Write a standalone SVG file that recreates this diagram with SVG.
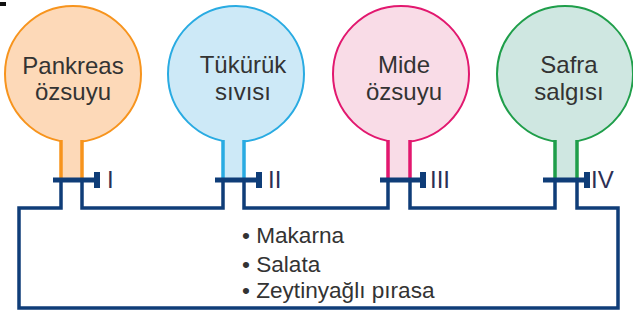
<svg xmlns="http://www.w3.org/2000/svg" width="633" height="320" viewBox="0 0 633 320">
<style>
.lbl{font-family:"Liberation Sans",Arial,sans-serif;font-size:24px;fill:#333333;text-anchor:middle}
.num{font-family:"Liberation Sans",Arial,sans-serif;font-size:24px;fill:#2c2f55}
.item{font-family:"Liberation Sans",Arial,sans-serif;font-size:22.6px;fill:#333333}
.pipe{fill:none;stroke:#0f3d78;stroke-width:3.5;stroke-linejoin:miter;stroke-linecap:butt}
.bar{stroke:#0f3d78;stroke-width:5}
.cap{fill:#0f3d78}
</style>
<rect x="0" y="2" width="6" height="4" fill="#111"/>
<g id="connectors">
<path class="pipe" d="M61 178 V208 H19 V308 H618 V208 H577 V178"/>
<path class="pipe" d="M82 178 V208 H223 V178"/>
<path class="pipe" d="M244 178 V208 H388 V178"/>
<path class="pipe" d="M410 178 V208 H555 V178"/>
</g>
<g id="pankreas">
<circle cx="73" cy="74" r="68" fill="#fdd9b8" stroke="#f7941d" stroke-width="2"/>
<rect x="61" y="130" width="21" height="49" fill="#fdd9b8"/>
<path d="M61 140 V179 M82 140 V179" stroke="#f7941d" stroke-width="3.5"/>
<text class="lbl" x="73" y="74">Pankreas</text>
<text class="lbl" x="73" y="100">özsuyu</text>
</g>
<g id="tukuruk">
<circle cx="236" cy="74" r="68" fill="#cde9f7" stroke="#29abe2" stroke-width="2"/>
<rect x="223" y="130" width="21" height="49" fill="#cde9f7"/>
<path d="M223 140 V179 M244 140 V179" stroke="#29abe2" stroke-width="3.5"/>
<text class="lbl" x="243" y="73">Tükürük</text>
<text class="lbl" x="243" y="100">sıvısı</text>
</g>
<g id="mide">
<circle cx="401" cy="74" r="68" fill="#f9dce7" stroke="#e2186f" stroke-width="2"/>
<rect x="388" y="130" width="22" height="49" fill="#f9dce7"/>
<path d="M388 140 V179 M410 140 V179" stroke="#e2186f" stroke-width="3.5"/>
<text class="lbl" x="404" y="73">Mide</text>
<text class="lbl" x="404" y="100">özsuyu</text>
</g>
<g id="safra">
<circle cx="565" cy="74" r="68" fill="#cfe7e1" stroke="#1f9e4a" stroke-width="2"/>
<rect x="555" y="130" width="22" height="49" fill="#cfe7e1"/>
<path d="M555 140 V179 M577 140 V179" stroke="#1f9e4a" stroke-width="3.5"/>
<text class="lbl" x="569" y="73">Safra</text>
<text class="lbl" x="569" y="100">salgısı</text>
</g>
<g id="valve1">
<line class="bar" x1="53" y1="180" x2="96" y2="180"/>
<rect class="cap" x="94" y="172" width="6" height="16"/>
<text class="num" x="107" y="188">I</text>
</g>
<g id="valve2">
<line class="bar" x1="215" y1="180" x2="258" y2="180"/>
<rect class="cap" x="256" y="172" width="6" height="16"/>
<text class="num" x="268" y="188">II</text>
</g>
<g id="valve3">
<line class="bar" x1="380" y1="180" x2="422" y2="180"/>
<rect class="cap" x="420" y="172" width="6" height="16"/>
<text class="num" x="430" y="188">III</text>
</g>
<g id="valve4">
<line class="bar" x1="543" y1="180" x2="586" y2="180"/>
<rect class="cap" x="584" y="172" width="6" height="16"/>
<text class="num" x="591" y="188">IV</text>
</g>
<g id="foods">
<text class="item" x="242" y="243">• Makarna</text>
<text class="item" x="242" y="272">• Salata</text>
<text class="item" x="242" y="298">• Zeytinyağlı pırasa</text>
</g>
</svg>
